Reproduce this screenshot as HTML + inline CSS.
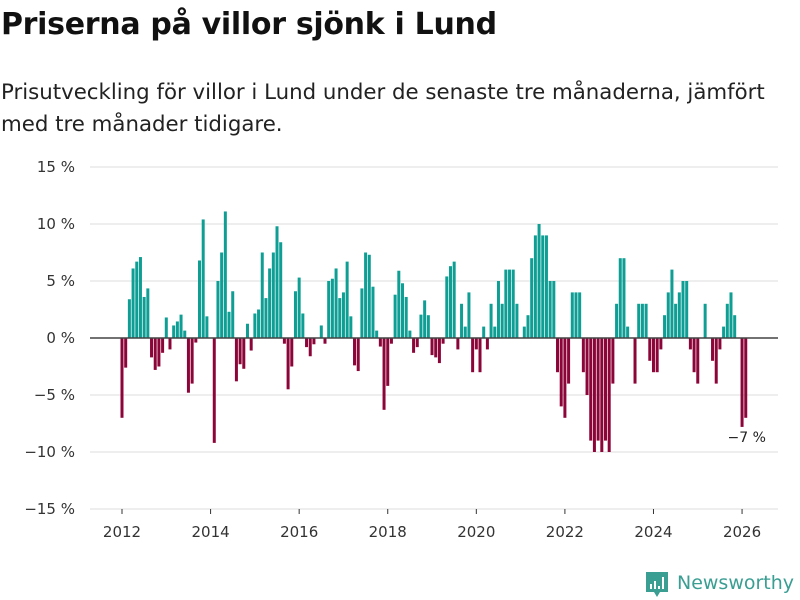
<!DOCTYPE html>
<html><head><meta charset="utf-8">
<style>
body{margin:0;width:800px;height:600px;background:#fff;font-family:"DejaVu Sans","Liberation Sans",sans-serif;overflow:hidden;position:relative}
h1{position:absolute;left:1px;top:7px;margin:0;font-size:30px;font-weight:bold;color:#111;letter-spacing:-0.3px}
p.sub{position:absolute;left:1px;top:77px;margin:0;font-size:21.3px;line-height:32px;color:#222;width:798px;white-space:nowrap}
svg{position:absolute;left:0;top:0}
</style></head><body>
<h1>Priserna på villor sjönk i Lund</h1>
<p class="sub">Prisutveckling för villor i Lund under de senaste tre månaderna, jämfört<br>med tre månader tidigare.</p>
<svg id="chart" width="800" height="600" font-family="DejaVu Sans, Liberation Sans, sans-serif"></svg>
<script>
const startYear = 2012;
const values = [
-7,-2.6,3.4,6.1,6.7,7.1,3.6,4.35,-1.7,-2.8,-2.5,-1.3,
1.8,-1.0,1.1,1.45,2.05,0.65,-4.8,-4.0,-0.4,6.8,10.4,1.9,
0,-9.2,5.0,7.5,11.1,2.3,4.1,-3.8,-2.3,-2.7,1.25,-1.1,
2.15,2.5,7.5,3.5,6.1,7.5,9.8,8.4,-0.5,-4.5,-2.5,4.1,
5.3,2.15,-0.8,-1.6,-0.55,0,1.1,-0.5,5.0,5.2,6.1,3.5,
4.0,6.7,1.9,-2.4,-2.9,4.35,7.5,7.3,4.5,0.65,-0.75,-6.3,
-4.2,-0.5,3.8,5.9,4.8,3.6,0.65,-1.3,-0.8,2.05,3.3,2.0,
-1.5,-1.7,-2.2,-0.5,5.4,6.3,6.7,-1.0,3.0,1.0,4.0,-3.0,
-1.0,-3.0,1.0,-1.0,3.0,1.0,5.0,3.0,6.0,6.0,6.0,3.0,
0,1.0,2.0,7.0,9.0,10.0,9.0,9.0,5.0,5.0,-3.0,-6.0,
-7.0,-4.0,4.0,4.0,4.0,-3.0,-5.0,-9.0,-10.0,-9.0,-10.0,-9.0,
-10.0,-4.0,3.0,7.0,7.0,1.0,0,-4.0,3.0,3.0,3.0,-2.0,
-3.0,-3.0,-1.0,2.0,4.0,6.0,3.0,4.0,5.0,5.0,-1.0,-3.0,
-4.0,0,3.0,0,-2.0,-4.0,-1.0,1.0,3.0,4.0,2.0,0,
-7.8,-7.0];
const yTicks = [15,10,5,0,-5,-10,-15];
const yTickLabels = ["15 %","10 %","5 %","0 %","−5 %","−10 %","−15 %"];
const xTicks = [2012,2014,2016,2018,2020,2022,2024,2026];
const lastLabel = "−7 %";

const NS="http://www.w3.org/2000/svg";
const svg=document.getElementById('chart');
const y=v=>338-v*11.4;
const x=t=>122+(t-startYear)*44.29;
function mk(tag,attrs,text){const e=document.createElementNS(NS,tag);for(const k in attrs)e.setAttribute(k,attrs[k]);if(text!=null)e.textContent=text;svg.appendChild(e);return e;}
yTicks.forEach((t,i)=>{
  if(t!==0){const g=mk('line',{x1:90,x2:778,y1:y(t),y2:y(t),stroke:'#dcdcdc','stroke-width':1});
  
  }
  const l=mk('text',{x:75,y:y(t)+5,'text-anchor':'end','font-size':15,fill:'#333'},yTickLabels[i]);
  
  
});
xTicks.forEach(t=>{
  const tk=mk('line',{x1:x(t),x2:x(t),y1:509,y2:514,stroke:'#333','stroke-width':1});
  
  
  const l=mk('text',{x:x(t),y:537,'text-anchor':'middle','font-size':15,fill:'#333'},String(t));
  
  
});
values.forEach((v,i)=>{
  const cx=x(startYear+i/12);
  const top=Math.min(y(v),y(0)), h=Math.abs(y(v)-y(0));
  const r=mk('rect',{x:cx-1.5,y:top,width:3,height:h,fill:v>=0?'#0e9e94':'#8c0538'});
  
  
});
const z=mk('line',{x1:90,x2:778,y1:y(0),y2:y(0),stroke:'#444','stroke-width':1.5});


const lastV=values[values.length-1];
const ll=mk('text',{x:x(startYear+(values.length-1)/12)+1,y:y(lastV)+24,'text-anchor':'middle','font-size':14,fill:'#222'},lastLabel);


// logo
const lg=mk('g',{});


const b=document.createElementNS(NS,'path');b.setAttribute('d','M646 572h22v20h-8l-3 5-3-5h-8z');b.setAttribute('fill','#3a9e93');lg.appendChild(b);
[[650,584,2,5],[654,581,2,8],[658,586,2,3],[662,577,2,12]].forEach(a=>{const r=document.createElementNS(NS,'rect');r.setAttribute('x',a[0]);r.setAttribute('y',a[1]);r.setAttribute('width',a[2]);r.setAttribute('height',a[3]);r.setAttribute('fill','#fff');lg.appendChild(r);});
const t=document.createElementNS(NS,'text');t.setAttribute('x',677);t.setAttribute('y',589);t.setAttribute('font-size',19);t.setAttribute('textLength',117);t.setAttribute('lengthAdjust','spacingAndGlyphs');t.setAttribute('fill','#3a9e93');t.textContent='Newsworthy';lg.appendChild(t);
</script>
</body></html>
